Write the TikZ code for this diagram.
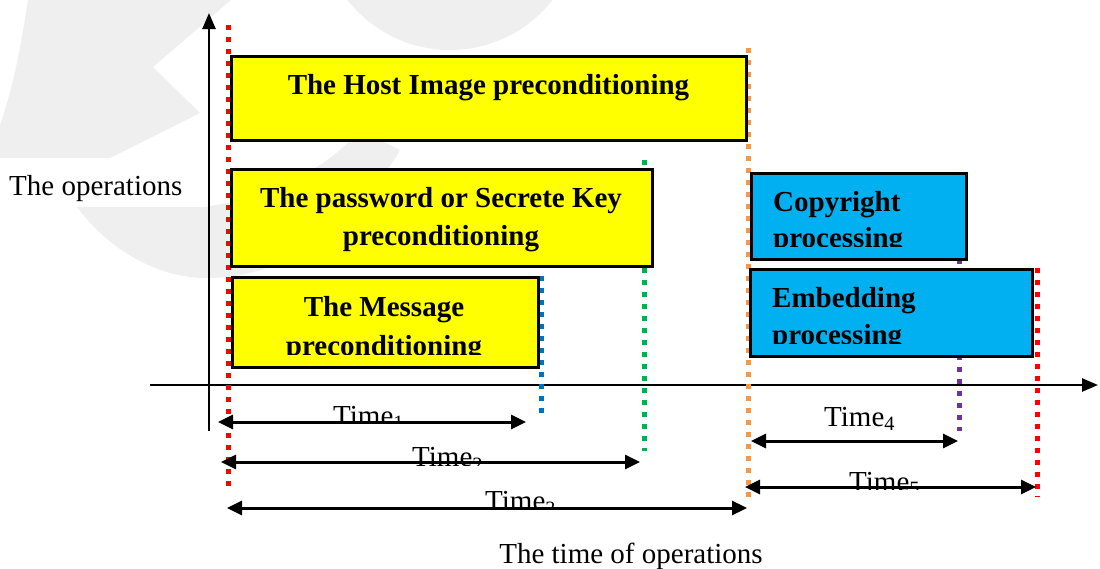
\documentclass[tikz,border=0pt]{standalone}
\usepackage{fontspec}
\setmainfont{Liberation Serif}
\usetikzlibrary{arrows.meta}
\definecolor{wm}{RGB}{239,239,239}
\definecolor{boxyellow}{RGB}{255,255,0}
\definecolor{boxblue}{RGB}{0,176,240}
\definecolor{dred}{RGB}{255,0,0}
\definecolor{dorange}{RGB}{247,150,70}
\definecolor{dgreen}{RGB}{0,176,80}
\definecolor{dblue}{RGB}{0,112,192}
\definecolor{dpurple}{RGB}{112,48,160}
\begin{document}
\begin{tikzpicture}[x=1pt,y=-1pt,
  dotline/.style={line width=5pt, dash pattern=on 5pt off 7pt},
  opbox/.style={draw=black, line width=3pt, inner sep=0pt, anchor=north west},
  ybox/.style={opbox, fill=boxyellow},
  bbox/.style={opbox, fill=boxblue},
  btext/.style={font=\fontsize{29}{35}\selectfont\bfseries, inner sep=0pt},
  rtext/.style={font=\fontsize{29}{35}\selectfont, inner sep=0pt},
  tarrow/.style={line width=3pt, {Triangle[length=15pt,width=14pt]}-{Triangle[length=15pt,width=14pt]}},
  axisline/.style={line width=2.5pt, -{Triangle[length=16pt,width=13pt]}}
]
\useasboundingbox (0,0) rectangle (1100,568);
% watermark
\fill[wm] (28,0) -- (231,0) -- (153,67) -- (200,113) -- (110,158) -- (0,158) -- (0,125) .. controls (14,85) and (22,40) .. (28,0) -- cycle;
\fill[wm] (77,207) -- (205,207) .. controls (280,195) and (330,165) .. (360,130) -- (400,150) .. controls (350,235) and (280,280) .. (200,278) .. controls (150,275) and (105,245) .. (77,207) -- cycle;
\fill[wm] (450,-80) circle (130pt);

% axes
\coordinate (yb) at (209,431);
\coordinate (yt) at (209,13);
\coordinate (xl) at (150,385);
\coordinate (xr) at (1098,385);
\draw[axisline] (yb) -- (yt);
\draw[axisline] (xl) -- (xr);

% dotted guide lines
\coordinate (redLt) at (228,25);   \coordinate (redLb) at (228,492);
\coordinate (orT) at (748,48);     \coordinate (orB) at (748,497);
\coordinate (grT) at (644,160);    \coordinate (grB) at (644,451);
\coordinate (blT) at (541,276);    \coordinate (blB) at (541,414);
\coordinate (puT) at (959,259);    \coordinate (puB) at (959,431);
\coordinate (redRt) at (1037,268); \coordinate (redRb) at (1037,497);
\draw[dotline, dred] (redLt) -- (redLb);
\draw[dotline, dorange] (orT) -- (orB);
\draw[dotline, dgreen] (grT) -- (grB);
\draw[dotline, dblue] (blT) -- (blB);
\draw[dotline, dpurple] (puT) -- (puB);
\draw[dotline, dred] (redRt) -- (redRb);

% boxes
\node[ybox, minimum width=515pt, minimum height=84pt] (host) at (230,55) {};
\node[ybox, minimum width=421pt, minimum height=97pt] (pass) at (230,168) {};
\node[ybox, minimum width=306pt, minimum height=90pt] (msg) at (231,276) {};
\node[bbox, minimum width=215pt, minimum height=86pt] (copy) at (750,172) {};
\node[bbox, minimum width=282pt, minimum height=87pt] (emb) at (749,268) {};

% box texts
\node[btext, anchor=base] (hostt) at (488.5,94) {The Host Image preconditioning};
\node[btext, anchor=base] (passt1) at (441,207) {The password or Secrete Key};
\node[btext, anchor=base] (passt2) at (441,245) {preconditioning};
\begin{scope}
  \clip (232,278) rectangle (535,354);
  \node[btext, anchor=base] (msgt1) at (384,316) {The Message};
  \node[btext, anchor=base] (msgt2) at (384,355) {preconditioning};
\end{scope}
\begin{scope}
  \clip (752,174) rectangle (963,246);
  \node[btext, anchor=base west] (copyt1) at (773,211) {Copyright};
  \node[btext, anchor=base west] (copyt2) at (773,247.5) {processing};
\end{scope}
\begin{scope}
  \clip (751,270) rectangle (1029,343);
  \node[btext, anchor=base west] (embt1) at (772,307) {Embedding};
  \node[btext, anchor=base west] (embt2) at (772,344.5) {processing};
\end{scope}

% axis labels
\node[rtext, anchor=base west] (ops) at (9,195) {The operations};
\node[rtext, anchor=base] (tops) at (631,563) {The time of operations};

% time labels (partly hidden under their arrows)
\begin{scope}
  \clip (300,380) rectangle (420,423);
  \node[rtext, anchor=base west] (t1) at (333,425) {Time\textsubscript{1}};
\end{scope}
\begin{scope}
  \clip (400,430) rectangle (500,465);
  \node[rtext, anchor=base west] (t2) at (412,466.5) {Time\textsubscript{2}};
\end{scope}
\begin{scope}
  \clip (470,470) rectangle (580,508);
  \node[rtext, anchor=base west] (t3) at (485,510.5) {Time\textsubscript{3}};
\end{scope}
\node[rtext, anchor=base west] (t4) at (824,426) {Time\textsubscript{4}};
\begin{scope}
  \clip (830,450) rectangle (940,489);
  \node[rtext, anchor=base west] (t5) at (849,491) {Time\textsubscript{5}};
\end{scope}

% time arrows
\coordinate (a1l) at (218,422); \coordinate (a1r) at (526,422);
\coordinate (a2l) at (221,462); \coordinate (a2r) at (640,462);
\coordinate (a3l) at (227,508); \coordinate (a3r) at (747,508);
\coordinate (a4l) at (751,441); \coordinate (a4r) at (958,441);
\coordinate (a5l) at (745,487); \coordinate (a5r) at (1036,487);
\draw[tarrow] (a1l) -- (a1r);
\draw[tarrow] (a2l) -- (a2r);
\draw[tarrow] (a3l) -- (a3r);
\draw[tarrow] (a4l) -- (a4r);
\draw[tarrow] (a5l) -- (a5r);
\end{tikzpicture}
\end{document}
